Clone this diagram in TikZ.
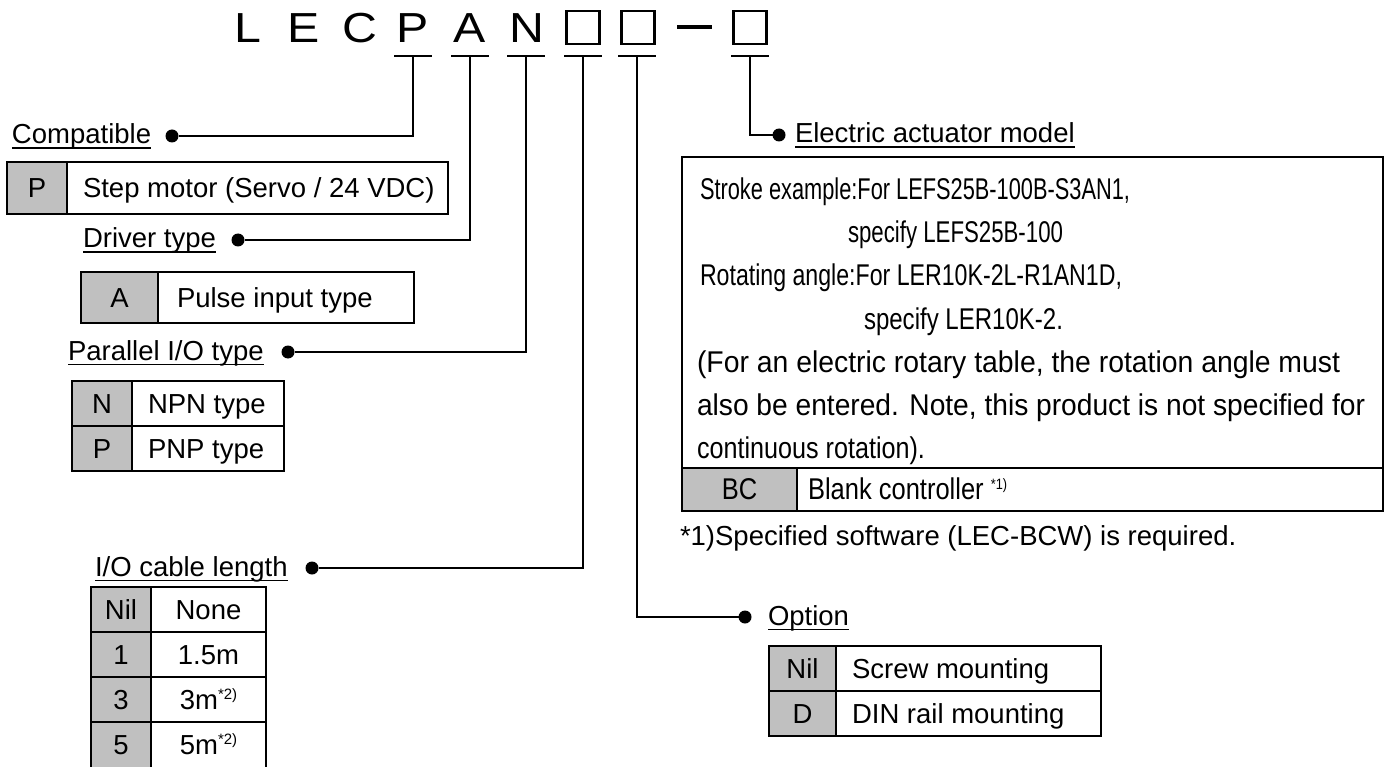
\documentclass[tikz,border=0pt]{standalone}
\usepackage{fontspec}
\usepackage{graphicx}
\setmainfont{Liberation Sans}
\newfontfamily\narrowf[FakeStretch=0.85]{Liberation Sans}
\newfontfamily\widef[FakeStretch=1.15]{Liberation Sans}
\definecolor{cellgray}{RGB}{192,192,192}
\newcommand\lbl{\fontsize{27.5}{33}\selectfont}
\newcommand\ttlf{\widef\fontsize{42}{50}\selectfont}
\newcommand\bxf{\narrowf\fontsize{30}{36}\selectfont}
\newcommand\supf{\fontsize{15}{18}\selectfont}
\newcommand\myul[1]{\sbox0{#1}\rlap{\rule[-5pt]{\wd0}{1.5pt}}\usebox0}
\newcommand\fitto[2]{\resizebox{#1}{\height}{#2}}
\newcommand\sups[1]{\raisebox{10pt}{\supf #1}}
\begin{document}
\begin{tikzpicture}[x=1pt,y=-1pt,
  every node/.style={inner sep=0pt, outer sep=0pt},
  conn/.style={line width=1.7pt},
  tab/.style={line width=1.9pt},
  gcell/.style={tab, fill=cellgray, draw=black},
  wcell/.style={tab, fill=white, draw=black},
  dotn/.style={circle, fill=black, minimum size=13pt},
  lab/.style={anchor=base west, font=\lbl},
  ctext/.style={anchor=base, font=\lbl},
  ltext/.style={anchor=base west, font=\lbl},
  btext/.style={anchor=base west, font=\bxf},
  ttl/.style={anchor=base, font=\ttlf},
  sq/.style={draw, line width=2.8pt, minimum size=33pt}]
\useasboundingbox (0,0) rectangle (1386,767);
\clip (0,0) rectangle (1386,767);

% ---------- title ----------
\node[ttl] (tL) at (248,43) {L};
\node[ttl] (tE) at (304,43) {E};
\node[ttl] (tC) at (360,43) {C};
\node[ttl] (tP) at (413,43) {P};
\node[ttl] (tA) at (470,43) {A};
\node[ttl] (tN) at (527,43) {N};
\node[sq] (tB1) at (583,27.5) {};
\node[sq] (tB2) at (638,27.5) {};
\node[fill=black, minimum width=35pt, minimum height=3.5pt] (tD) at (694,27) {};
\node[sq] (tB3) at (750,27.5) {};

% tick points
\coordinate (kP) at (413,56);
\coordinate (kA) at (470,56);
\coordinate (kN) at (526,56);
\coordinate (kB1) at (583,56);
\coordinate (kB2) at (637,56);
\coordinate (kB3) at (750,56);
\foreach \k in {kP,kA,kN,kB1,kB2,kB3}{
  \draw[conn] ([xshift=-19pt]\k) -- ([xshift=19pt]\k);
}

% ---------- dots ----------
\node[dotn] (dC) at (172,136) {};
\node[dotn] (dD) at (238,240) {};
\node[dotn] (dP) at (288,352) {};
\node[dotn] (dL) at (312,568) {};
\node[dotn] (dO) at (745,617) {};
\node[dotn] (dE) at (779,135) {};

\draw[conn] (kP) |- (dC);
\draw[conn] (kA) |- (dD);
\draw[conn] (kN) |- (dP);
\draw[conn] (kB1) |- (dL);
\draw[conn] (kB2) |- (dO);
\draw[conn] (kB3) |- (dE);

% ---------- labels ----------
\node[lab] (lC) at (12,144) {\myul{Compatible}};
\node[lab] (lD) at (83,248) {\myul{Driver type}};
\node[lab] (lP) at (68,360) {\myul{Parallel I/O type}};
\node[lab] (lL) at (95,576) {\myul{I/O cable length}};
\node[lab] (lO) at (768,625) {\myul{Option}};
\node[lab] (lE) at (795,143) {\myul{Electric actuator model}};

% ---------- Compatible table ----------
\filldraw[gcell] (7,162) rectangle (67,214);
\filldraw[wcell] (67,162) rectangle (448,214);
\node[ctext] (cP) at (37,198) {P};
\node[ltext] (cPt) at (83,198) {Step motor (Servo / 24 VDC)};

% ---------- Driver table ----------
\filldraw[gcell] (81,272) rectangle (158,323);
\filldraw[wcell] (158,272) rectangle (414,323);
\node[ctext] (cA) at (119.5,307) {A};
\node[ltext] (cAt) at (177,307) {Pulse input type};

% ---------- Parallel I/O table ----------
\filldraw[gcell] (72,381) rectangle (132,426);
\filldraw[gcell] (72,426) rectangle (132,471);
\filldraw[wcell] (132,381) rectangle (284,426);
\filldraw[wcell] (132,426) rectangle (284,471);
\node[ctext] (cN) at (102,413) {N};
\node[ltext] (cNt) at (148,413) {NPN type};
\node[ctext] (cP2) at (102,458) {P};
\node[ltext] (cP2t) at (148,458) {PNP type};

% ---------- Cable length table ----------
\filldraw[gcell] (91,587) rectangle (151,632);
\filldraw[gcell] (91,632) rectangle (151,677);
\filldraw[gcell] (91,677) rectangle (151,722);
\filldraw[gcell] (91,722) rectangle (151,790);
\filldraw[wcell] (151,587) rectangle (266,632);
\filldraw[wcell] (151,632) rectangle (266,677);
\filldraw[wcell] (151,677) rectangle (266,722);
\filldraw[wcell] (151,722) rectangle (266,790);
\node[ctext] (k0) at (121,619) {Nil};
\node[ctext] (k0t) at (208.5,619) {None};
\node[ctext] (k1) at (121,664) {1};
\node[ctext] (k1t) at (208.5,664) {1.5m};
\node[ctext] (k3) at (121,709) {3};
\node[ctext] (k3t) at (208.5,709) {3m\sups{*2)}};
\node[ctext] (k5) at (121,754) {5};
\node[ctext] (k5t) at (208.5,754) {5m\sups{*2)}};

% ---------- Option table ----------
\filldraw[gcell] (769,646) rectangle (836,691);
\filldraw[gcell] (769,691) rectangle (836,736);
\filldraw[wcell] (836,646) rectangle (1101,691);
\filldraw[wcell] (836,691) rectangle (1101,736);
\node[ctext] (o0) at (802.5,678) {Nil};
\node[ltext] (o0t) at (852,678) {Screw mounting};
\node[ctext] (o1) at (802.5,723) {D};
\node[ltext] (o1t) at (852,723) {DIN rail mounting};

% ---------- Electric actuator model box ----------
\draw[tab] (682,157) rectangle (1383,511);
\filldraw[gcell] (682,468) rectangle (797,511);
\draw[tab] (797,468) -- (1383,468);
\node[btext] (e1) at (700,200) {\fitto{430pt}{Stroke example:For LEFS25B-100B-S3AN1,}};
\node[btext] (e2) at (848,243) {\fitto{215pt}{specify LEFS25B-100}};
\node[btext] (e3) at (700,286) {\fitto{422pt}{Rotating angle:For LER10K-2L-R1AN1D,}};
\node[btext] (e4) at (864,329) {\fitto{199pt}{specify LER10K-2.}};
\node[btext] (e5) at (697,372) {\fitto{643pt}{(For an electric rotary table, the rotation angle must}};
\node[btext] (e6) at (697,415) {\fitto{668pt}{also be entered. Note, this product is not specified for}};
\node[btext] (e7) at (697,458) {\fitto{228pt}{continuous rotation).}};
\node[anchor=base, font=\bxf] (eBC) at (739.5,499) {BC};
\node[btext] (eBCt) at (808,499) {Blank controller \sups{*1)}};

% footnote
\node[ltext] (fn) at (680,545) {*1)Specified software (LEC-BCW) is required.};
\end{tikzpicture}
\end{document}
